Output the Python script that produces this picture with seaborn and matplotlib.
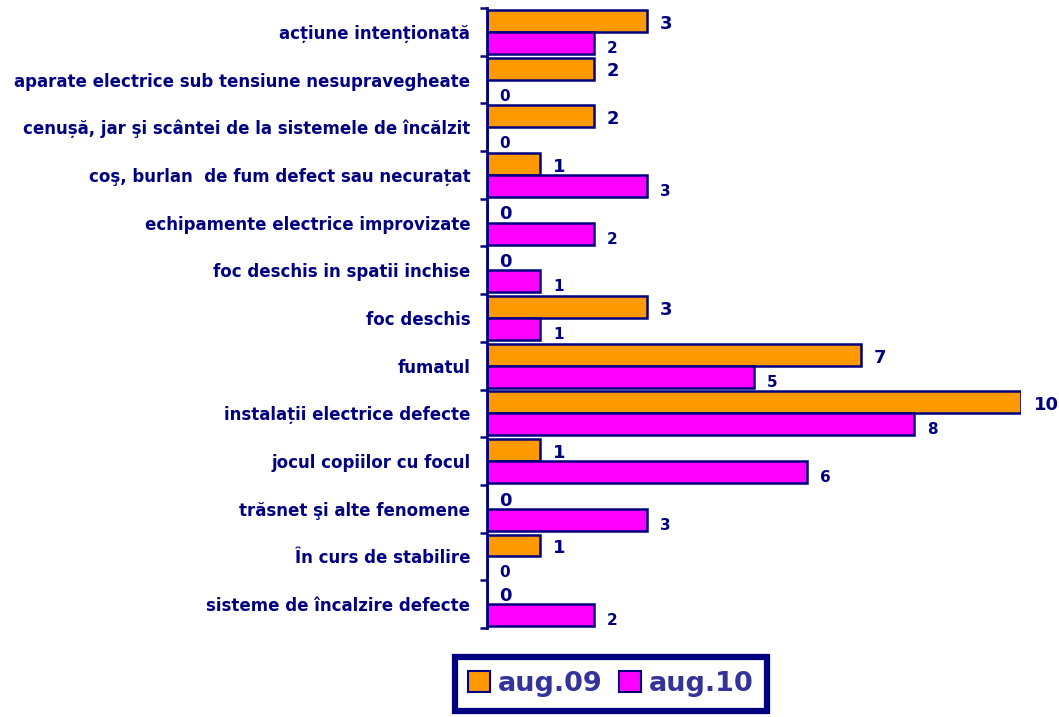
import matplotlib
matplotlib.use("Agg")
import matplotlib.pyplot as plt
import seaborn as sns
import pandas as pd
import numpy as np
from matplotlib.patches import Patch

categories = [
    "acțiune intenționată",
    "aparate electrice sub tensiune nesupravegheate",
    "cenușă, jar şi scântei de la sistemele de încălzit",
    "coş, burlan  de fum defect sau necurațat",
    "echipamente electrice improvizate",
    "foc deschis in spatii inchise",
    "foc deschis",
    "fumatul",
    "instalații electrice defecte",
    "jocul copiilor cu focul",
    "trăsnet şi alte fenomene",
    "În curs de stabilire",
    "sisteme de încalzire defecte",
]
aug09 = [3, 2, 2, 1, 0, 0, 3, 7, 10, 1, 0, 1, 0]
aug10 = [2, 0, 0, 3, 2, 1, 1, 5, 8, 6, 3, 0, 2]
series = ["aug.09", "aug.10"]

NAVY = "#000080"
ORANGE = "#FF9900"
MAGENTA = "#FF00FF"

df = pd.DataFrame({
    "cat": categories * 2,
    "val": aug09 + aug10,
    "series": [series[0]] * len(categories) + [series[1]] * len(categories),
})

sns.set_style("white")
plt.rcParams["font.family"] = ["DejaVu Sans"]

fig = plt.figure(figsize=(10.59, 7.17), dpi=100)
ax = fig.add_axes([487 / 1059, 1 - 628 / 717, (1021 - 487) / 1059, 620 / 717])

sns.barplot(data=df, y="cat", x="val", hue="series", hue_order=series,
            order=categories, palette=[ORANGE, MAGENTA], orient="h",
            width=0.92, edgecolor=NAVY, linewidth=1.8, ax=ax, legend=False,
            saturation=1)

ax.set_xlim(0, 10)
ax.set_ylim(len(categories) - 0.5, -0.5)
ax.set_xlabel("")
ax.set_ylabel("")
ax.set_xticks([])
for s in ["top", "right", "bottom"]:
    ax.spines[s].set_visible(False)
ax.spines["left"].set_color(NAVY)
ax.spines["left"].set_linewidth(2)

ax.set_yticks(range(len(categories)))
ax.set_yticklabels(categories, fontsize=12, fontweight="bold", color=NAVY)
ax.tick_params(axis="y", which="major", left=False, length=0, pad=12)
ax.set_yticks(np.arange(-0.5, len(categories), 1), minor=True)
ax.tick_params(axis="y", which="minor", left=True, length=5, width=1.8,
               color=NAVY, direction="out")

# value labels
for i, (v9, v10) in enumerate(zip(aug09, aug10)):
    y9 = i - 0.23
    y10 = i + 0.23
    ax.annotate(str(v9), xy=(v9, y9), xytext=(9, -2), textcoords="offset points",
                ha="left", va="center", fontsize=13, fontweight="bold",
                color=NAVY, annotation_clip=False)
    ax.annotate(str(v10), xy=(v10, y10), xytext=(9, -4), textcoords="offset points",
                ha="left", va="center", fontsize=11, fontweight="bold",
                color=NAVY, annotation_clip=False)

handles = [Patch(facecolor=ORANGE, edgecolor=NAVY, linewidth=1.5),
           Patch(facecolor=MAGENTA, edgecolor=NAVY, linewidth=1.5)]
leg = fig.legend(handles, series, loc="center", bbox_to_anchor=(611 / 1059, 1 - 684 / 717),
                 ncol=2, frameon=True, fancybox=False, shadow=False, framealpha=1,
                 prop={"size": 19.5, "weight": "bold"}, handlelength=0.8, handleheight=0.8,
                 handletextpad=0.3, columnspacing=0.6, borderpad=0.5)
leg.get_frame().set_edgecolor(NAVY)
leg.get_frame().set_linewidth(4.5)
for t in leg.get_texts():
    t.set_color("#333399")

fig.savefig("out.png", dpi=100)
